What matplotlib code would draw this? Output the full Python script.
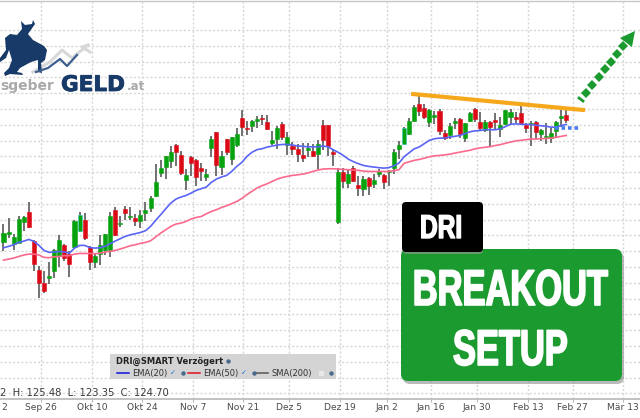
import matplotlib
matplotlib.use("Agg")
import matplotlib.pyplot as plt
import matplotlib.patheffects as pe
from matplotlib.patches import FancyBboxPatch, Polygon, Rectangle
from matplotlib.transforms import Affine2D

# candles, one value per trading day
opens = [67.56, 68.07, 67.47, 67.52, 68.85, 69.48, 67.62, 65.81, 64.96, 65.28, 65.74, 66.67, 67.37, 66.84, 67.24, 68.30,
         68.99, 67.24, 66.31, 66.80, 67.09, 67.09, 69.61, 68.74, 69.65, 69.14, 69.08, 68.89, 69.42, 69.75, 70.49, 71.93,
         72.31, 72.73, 73.74, 73.11, 71.50, 72.96, 72.79, 72.29, 71.72, 73.55, 74.52, 72.31, 74.08, 72.81, 73.70, 75.41,
         74.82, 74.92, 75.22, 75.45, 75.16, 73.87, 74.12, 75.07, 73.70, 73.66, 73.45, 73.11, 73.43, 73.32, 73.13, 75.01,
         74.97, 73.26, 68.85, 72.01, 71.34, 72.26, 71.17, 70.96, 71.61, 71.27, 71.86, 71.84, 71.99, 72.29, 73.44, 73.81,
         74.44, 75.27, 76.31, 76.04, 75.16, 75.52, 75.89, 74.48, 74.37, 75.14, 75.39, 74.14, 75.27, 75.98, 75.19, 74.69,
         75.21, 75.31, 74.73, 75.04, 75.50, 75.50, 75.75, 75.00, 75.04, 75.16, 74.39, 74.23, 74.16, 74.64, 75.46, 75.62]
closes = [68.15, 68.19, 67.92, 69.04, 69.14, 68.53, 66.21, 64.99, 64.48, 65.45, 67.09, 67.73, 66.59, 66.21, 68.93, 69.27,
          67.81, 66.34, 66.67, 67.39, 68.11, 69.20, 68.00, 68.80, 69.42, 69.20, 68.93, 69.31, 69.61, 70.39, 71.40, 72.29,
          73.00, 73.28, 73.26, 71.93, 71.80, 72.56, 71.67, 72.07, 71.86, 74.12, 72.48, 73.05, 73.26, 74.21, 74.44, 74.88,
          74.73, 75.22, 75.37, 75.39, 74.75, 74.02, 74.80, 74.25, 74.23, 73.45, 73.17, 72.90, 73.53, 73.05, 73.80, 74.06,
          73.64, 73.13, 71.99, 71.42, 71.91, 71.42, 70.98, 71.57, 71.15, 71.53, 72.07, 71.38, 72.05, 73.27, 73.75, 74.79,
          75.25, 76.10, 75.89, 75.50, 75.94, 75.60, 74.58, 74.19, 74.94, 75.25, 74.44, 75.10, 75.73, 75.37, 74.79, 75.21,
          74.85, 75.21, 75.00, 75.91, 75.83, 75.37, 75.14, 74.83, 75.14, 74.56, 74.69, 74.31, 74.48, 75.16, 75.56, 75.31]
highs = [68.74, 69.10, 68.11, 69.20, 69.25, 70.09, 67.69, 66.08, 65.72, 66.31, 67.14, 68.04, 67.47, 66.99, 68.99, 69.46,
         69.42, 67.35, 66.84, 68.04, 68.11, 69.46, 69.77, 69.20, 69.84, 69.77, 69.37, 69.63, 70.09, 70.47, 72.54, 72.79,
         73.05, 73.68, 73.78, 73.36, 72.20, 73.05, 72.83, 72.58, 72.20, 74.31, 74.54, 73.36, 74.12, 74.23, 74.80, 75.96,
         75.22, 75.32, 75.58, 75.62, 75.64, 74.63, 74.94, 75.20, 74.52, 73.89, 73.80, 73.85, 73.83, 73.80, 74.02, 75.28,
         74.99, 73.38, 72.26, 72.26, 72.12, 72.37, 71.78, 71.78, 71.70, 71.91, 72.20, 71.91, 72.16, 73.48, 74.00, 74.89,
         75.41, 76.25, 76.83, 76.31, 75.98, 75.89, 75.98, 74.69, 75.10, 75.41, 75.41, 75.14, 75.83, 76.04, 75.83, 75.31,
         75.27, 75.73, 75.52, 75.94, 75.98, 75.83, 76.25, 75.14, 75.27, 75.27, 74.73, 75.10, 74.79, 75.27, 75.98, 75.94]
lows = [66.99, 67.83, 67.09, 67.52, 68.26, 68.47, 65.72, 64.04, 64.35, 64.92, 65.30, 66.00, 66.36, 65.34, 67.20, 68.19,
        67.69, 65.83, 65.93, 66.10, 66.78, 66.63, 67.94, 68.51, 68.99, 68.95, 68.57, 68.47, 68.89, 69.46, 70.41, 71.69,
        71.59, 72.27, 72.37, 71.84, 70.89, 71.74, 71.10, 71.42, 71.42, 72.96, 71.78, 71.84, 73.11, 72.43, 73.57, 74.27,
        74.37, 74.52, 74.80, 75.01, 74.69, 73.72, 73.49, 74.02, 73.11, 73.11, 72.64, 72.64, 72.96, 72.96, 72.20, 73.43,
        73.00, 72.37, 68.72, 71.00, 71.00, 71.36, 70.47, 70.51, 70.56, 71.00, 71.70, 70.96, 71.15, 71.87, 72.81, 73.75,
        74.37, 75.21, 75.56, 75.35, 74.89, 75.06, 74.37, 74.06, 74.12, 74.73, 74.16, 73.91, 75.21, 75.16, 74.58, 74.52,
        73.58, 74.69, 74.23, 75.00, 75.04, 75.10, 75.04, 74.48, 73.64, 74.10, 74.00, 73.79, 73.85, 74.16, 74.89, 75.10]

ema20 = [67.22, 67.31, 67.41, 67.56, 67.64, 67.75, 67.62, 67.37, 67.05, 66.93, 66.95, 66.99, 66.95, 66.88, 67.20, 67.37,
         67.37, 67.24, 67.20, 67.22, 67.31, 67.47, 67.64, 67.79, 67.94, 68.04, 68.11, 68.19, 68.30, 68.57, 68.95, 69.31,
         69.69, 70.05, 70.30, 70.43, 70.53, 70.68, 70.85, 70.96, 71.06, 71.36, 71.57, 71.70, 71.80, 72.05, 72.37, 72.62,
         73.00, 73.26, 73.43, 73.49, 73.59, 73.66, 73.72, 73.76, 73.76, 73.72, 73.66, 73.64, 73.61, 73.61, 73.61, 73.66,
         73.61, 73.43, 73.26, 73.07, 72.83, 72.67, 72.54, 72.43, 72.37, 72.33, 72.29, 72.26, 72.29, 72.41, 72.58, 72.98,
         73.23, 73.48, 73.60, 73.81, 74.02, 74.12, 74.16, 74.16, 74.23, 74.27, 74.33, 74.44, 74.56, 74.62, 74.64, 74.69,
         74.69, 74.69, 74.75, 74.89, 75.04, 75.06, 75.04, 75.02, 75.02, 74.98, 74.94, 74.91, 74.85, 74.85, 74.96, 75.02]
ema50 = [66.44, 66.50, 66.57, 66.67, 66.76, 66.82, 66.82, 66.76, 66.61, 66.59, 66.65, 66.67, 66.72, 66.72, 66.82, 66.86,
         66.86, 66.86, 66.84, 66.88, 66.95, 66.99, 67.05, 67.14, 67.24, 67.35, 67.41, 67.50, 67.56, 67.66, 67.90, 68.15,
         68.36, 68.57, 68.72, 68.78, 68.89, 69.04, 69.14, 69.20, 69.37, 69.52, 69.63, 69.77, 69.88, 70.01, 70.15, 70.34,
         70.58, 70.79, 71.00, 71.15, 71.27, 71.42, 71.57, 71.67, 71.74, 71.80, 71.84, 71.88, 71.95, 72.05, 72.14, 72.20,
         72.22, 72.22, 72.20, 72.18, 72.16, 72.14, 72.12, 72.07, 72.05, 72.05, 72.05, 72.05, 72.05, 72.10, 72.16, 72.56,
         72.66, 72.75, 72.81, 72.89, 72.98, 73.04, 73.06, 73.10, 73.14, 73.21, 73.27, 73.33, 73.39, 73.48, 73.54, 73.58,
         73.62, 73.69, 73.75, 73.83, 73.91, 73.98, 74.02, 74.06, 74.10, 74.10, 74.12, 74.14, 74.16, 74.21, 74.27, 74.33]

tick_pos = [7.4, 17.5, 27.3, 37.4, 47.2, 56.3, 66.4, 75.6, 84.3, 93.4, 103.5, 112.3, 122.2]
tick_labels = ["Sep 26", "Okt 10", "Okt 24", "Nov 7", "Nov 21", "Dez 5", "Dez 19", "Jan 2",
               "Jan 16", "Jan 30", "Feb 13", "Feb 27", "Mär 13"]

trend_x = [80.4, 114.7]
trend_y = [76.96, 75.93]
support_x = [108.8, 113.8]
support_y = [74.77, 74.77]

GREEN = "#07a30f"
RED = "#dc0a16"
BOX_GREEN = "#1b9a2f"
GLOBE = "#4a6a8a"


class Tall(pe.AbstractPathEffect):
    # there is no condensed heavy font here, so stretch the glyphs up from the baseline
    def __init__(self, sy, baseline_px, stroke):
        super().__init__()
        self.sy = sy
        self.base = 418 - baseline_px
        self.stroke = stroke

    def draw_path(self, renderer, gc, tpath, affine, rgbFace=None):
        stretch = affine + Affine2D().translate(0, -self.base).scale(1, self.sy).translate(0, self.base)
        gc0 = renderer.new_gc()
        gc0.copy_properties(gc)
        gc0.set_linewidth(self.stroke)
        gc0.set_foreground("white")
        renderer.draw_path(gc0, tpath, stretch, rgbFace)
        gc0.restore()


fig = plt.figure(figsize=(6.4, 4.18), dpi=100)
ax = fig.add_axes([0, 19 / 418, 1, 399 / 418])
ax.set_xlim(-0.69, 125.54)
ax.set_ylim(57.65, 82.9)

# grid
for price in range(58, 82):
    ax.axhline(price, color="#d6d6d6", lw=1, ls=(0, (1.5, 1.5)), zorder=1)
for pos in tick_pos:
    ax.axvline(pos, color="#d6d6d6", lw=1, ls=(0, (1.5, 1.5)), zorder=1)

# candles
for i in range(len(opens)):
    ax.vlines(i, lows[i], highs[i], color="#5a5a5a", lw=1.2, zorder=2)
    colour = GREEN if closes[i] >= opens[i] else RED
    edge = "#36c9c0" if i in (15, 79) else colour
    ax.bar(i, abs(closes[i] - opens[i]), bottom=min(opens[i], closes[i]), width=0.8,
           color=colour, edgecolor=edge, linewidth=0.4, zorder=3)

ax.plot(range(len(ema20)), ema20, color="#5a64f5", lw=1.2, zorder=4)
ax.plot(range(len(ema50)), ema50, color="#fb6a8c", lw=1.2, zorder=4)

# drawn on top of the chart
ax.plot(trend_x, trend_y, color="#f5a81c", lw=3, solid_capstyle="butt", zorder=5)
ax.plot(support_x, support_y, color="#4a7df0", lw=2.6, ls=(0, (1, 0.8)), zorder=5)

# axis
for side in ["top", "left", "right"]:
    ax.spines[side].set_visible(False)
ax.spines["bottom"].set_color("#b8b8b8")
ax.spines["bottom"].set_linewidth(1.2)
ax.set_yticks([])
ax.set_xticks(tick_pos, tick_labels)
ax.tick_params(axis="x", length=2, width=0.8, color="#b8b8b8", pad=1, labelsize=6.6, labelcolor="#4a4a4a")

# overlay in picture pixels for logo, legend and banners
ov = fig.add_axes([0, 0, 1, 1], facecolor="none")
ov.set_xlim(0, 640)
ov.set_ylim(418, 0)
ov.axis("off")

ov.plot([0, 640], [0.5, 0.5], color="#c8c8c8", lw=1)
ov.text(4, 407, "2", fontsize=6.6, color="#4a4a4a", ha="center", va="center")

# arrow
arrow_x = [586, 592, 599, 605, 611, 617, 623]
arrow_y = [93, 85, 77, 69, 62, 54, 46]
ov.plot(arrow_x, arrow_y, ls="", marker="D", ms=4.6, color=BOX_GREEN, mew=0)
ov.plot([579, 583], [98, 101], color=BOX_GREEN, lw=2)
ov.add_patch(Polygon([(635, 31), (620, 38), (632, 47)], color=BOX_GREEN, lw=0))

# logo
bull = [(0, 58), (6, 50), (5, 38), (10, 34), (17, 35), (22, 29), (21, 21), (25, 25), (32, 24), (33, 20), (35, 24),
        (28, 34), (33, 40), (44, 46), (47, 50), (45, 60), (41, 63), (42, 73), (38, 72), (38, 60), (31, 62), (20, 68),
        (17, 72), (22, 73), (23, 75), (10, 74), (5, 76), (4, 73), (9, 68), (12, 60), (9, 50), (6, 58), (0, 62)]
ov.add_patch(Polygon(bull, color="#173a68", lw=0, zorder=6))
ov.plot([33, 50, 62, 72, 88], [72, 62, 50, 58, 45], color="#d6d8da", lw=2.2, zorder=5)
ov.plot([88, 82, 90], [45, 47, 52], color="#d6d8da", lw=2.2, zorder=5)
ov.plot([36, 48, 60, 67, 77], [72, 68, 59, 66, 55], color="#3f5f90", lw=1.6, zorder=6)
ov.text(0, 86, "sgeber", fontsize=10, color="#a9a9a9", fontweight="bold", va="center", ha="left", zorder=6)
ov.text(61, 85, "GELD", fontsize=15.5, color="#173a68", fontweight="bold", va="center", ha="left", zorder=6,
        path_effects=[pe.withStroke(linewidth=0.6, foreground="#173a68")])
ov.text(127, 87, ".at", fontsize=8.5, color="#a9a9a9", fontweight="bold", va="center", ha="left", zorder=6)

# legend panel
ov.add_patch(Rectangle((110, 354), 226, 25, color="#d4d4d4", lw=0, zorder=6))
ov.text(116, 361, "DRI@SMART Verzögert", fontsize=6, fontweight="bold", color="#222222", va="center", zorder=7)
legend_rows = [(117, "#1010e0", "EMA(20)"), (188, "#e01020", "EMA(50)"), (256, "#555555", "SMA(200)")]
for x0, colour, label in legend_rows:
    ov.plot([x0, x0 + 12], [373, 373], color=colour, lw=1.1, zorder=7)
    ov.text(x0 + 15, 373.5, label, fontsize=6, color="#333333", va="center", zorder=7)
for x0 in [173, 244]:
    ov.text(x0, 373.5, "✓", fontsize=5, color="#1a6fd0", ha="center", va="center", zorder=7)
ov.add_patch(Rectangle((319, 370.5), 5, 5, color="#e8e8e8", lw=0, zorder=7))
ov.plot([228, 183, 254, 331], [361, 373, 373, 373], ls="", marker="o", ms=3.2, color=GLOBE, mew=0, zorder=7)

ov.text(0, 393.5, "2  H: 125.48  L: 123.35  C: 124.70", fontsize=7.2, color="#3a3a3a", va="center", zorder=7)

# banners
shadow = dict(boxstyle="round,pad=0,rounding_size=7", lw=0)
ov.add_patch(FancyBboxPatch((403, 252), 221, 132, color="#8c8c8c", alpha=0.6, zorder=7, **shadow))
ov.add_patch(FancyBboxPatch((401, 249), 221, 132, color=BOX_GREEN, zorder=8, **shadow))
ov.add_patch(FancyBboxPatch((403, 204), 80, 50, color="#9a9a9a", alpha=0.6, zorder=8.5,
                            boxstyle="round,pad=0,rounding_size=4", lw=0))
ov.add_patch(FancyBboxPatch((402, 202), 81, 50, color="black", zorder=9,
                            boxstyle="round,pad=0,rounding_size=4", lw=0))
ov.text(441, 238, "DRI", family="Liberation Sans", fontsize=17.6, fontweight="bold", color="white",
        ha="center", va="baseline", zorder=10, path_effects=[Tall(1.35, 238, 1.0)])
ov.text(510.5, 305, "BREAKOUT", family="Liberation Sans", fontsize=24.8, fontweight="bold", color="white",
        ha="center", va="baseline", zorder=10, path_effects=[Tall(1.46, 305, 1.2)])
ov.text(510.5, 365, "SETUP", family="Liberation Sans", fontsize=24.8, fontweight="bold", color="white",
        ha="center", va="baseline", zorder=10, path_effects=[Tall(1.46, 365, 1.2)])

fig.savefig("out.png", dpi=100)
